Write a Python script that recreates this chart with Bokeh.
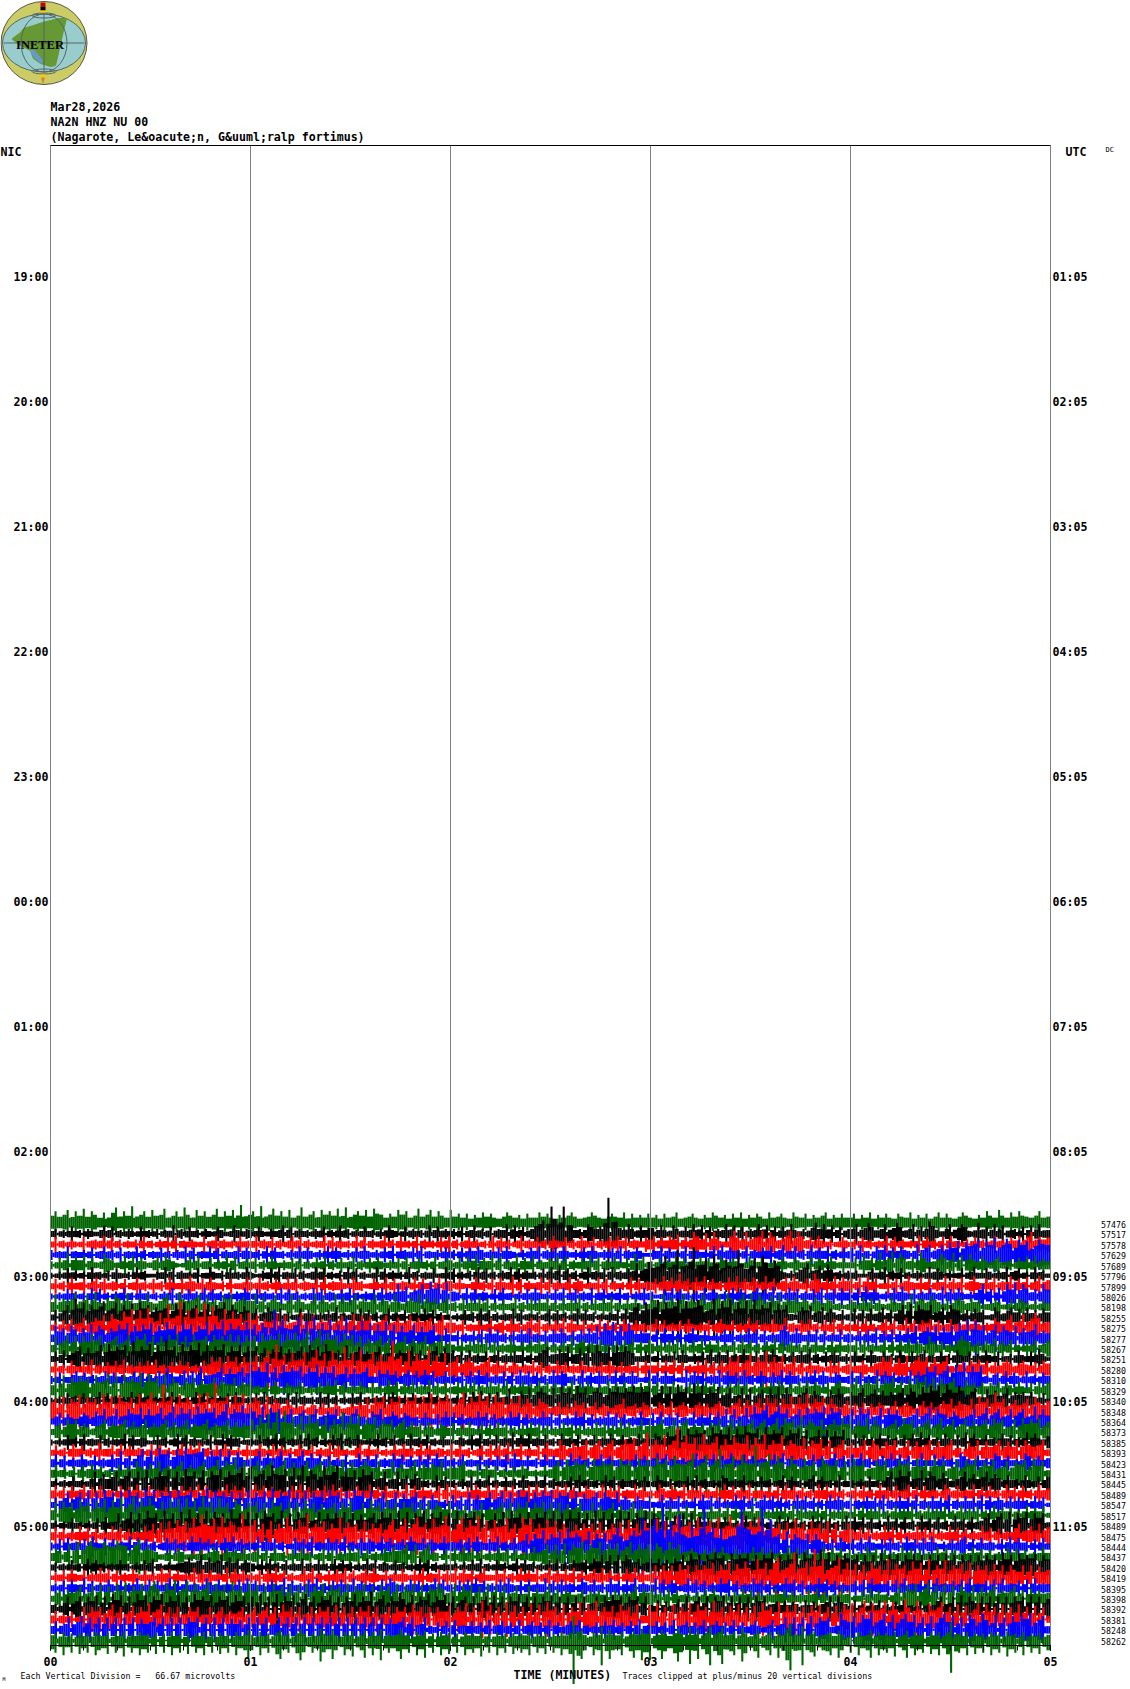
from bokeh.plotting import figure
from bokeh.models import Range1d, LinearAxis, FixedTicker, ColumnDataSource
from bokeh.core.properties import value
from bokeh.embed import file_html
from bokeh.resources import INLINE

TITLE_LINES = ["Mar28,2026", "NA2N HNZ NU 00", "(Nagarote, Le&oacute;n, G&uuml;ralp fortimus)"]
NIC_HOURS = ["19:00","20:00","21:00","22:00","23:00","00:00","01:00","02:00","03:00","04:00","05:00"]
UTC_HOURS = ["01:05","02:05","03:05","04:05","05:05","06:05","07:05","08:05","09:05","10:05","11:05"]
MINUTE_LABELS = ["00","01","02","03","04","05"]
TRACE_LABELS = [57476,57517,57578,57629,57689,57796,57899,58026,58198,58255,58275,58277,58267,58251,58280,58310,58329,58340,58348,58364,58373,58385,58393,58423,58431,58445,58489,58547,58517,58489,58475,58444,58437,58420,58419,58395,58398,58392,58381,58248,58262]
TRACE_COLORS = ["#006400", "#000000", "#ff0000", "#0000ff"]

# half-height of each trace, one base-36 character per 1.2 s, one group per minute (read by eye)
AMPLITUDES = [
"8a79b6a8c7a9695bd7a8e69a7b89c68a7d96b8a79c7a8b6f79 a7e69c8a7b68d79a6b9a8c7d69a8b7ca9687b9a68c79b7a86b 7868576978657986758669786576897567986578769586768 6758679567865769867586957687596786597685768957686 6857695768658769576857968657986576a86b8697a8768a67",
"3514263415324736142531634251437152634153264137425 4263153472615342536142735142634152743162534172635 3526147352615482736258ab2mf8m3745287565t2a63851746 6274175263847162538471625384716263841526958472615 5826973582697158263a84158268731946283714526172834",
"3614253161453726251435172415362714353261472534163 4172536152473615243716253417261534725163427153426 3725146352417263514725362517436152743615263746154 3657264758163a8592a6138b72a378b1a8269b3a81637425136 4251635243716253427163526173425163524735264728a3657",
"5243714352614735261437251436241537261437261534726 4351726341527364152736415263741526371453627143526 3516264751536274315264715362741526374153627153641 2547163527164352718364527153647258147251836471526 3618241758163754191782684a7b1a9bc2bae4adb1cab49cba",
"4163a27581632975147382641573864215738246153827146 3615274153627142637152634715263741536271463527146 5162738164827153826471536482715364827153741629372 4162537461527463175264137526315274165347165274163 3618562a47b1a8263a7146983a28196275167345164737264",
"3142635241734251632417352143726153426137425163427 4215362714361524736142517361423716253417251436217 3614251736241537162534162738162514725361725364a27b8 9cg3bk2aen7bd3hc2da8kc3ae1gd8ca315268a1683961525 3521463471536142531736415236147326415371562417352",
"3625173461572635426147352635174263851627435162347 4173526417362543617254631745236417263541726341725 5263147352617438261534726153472651437261534172635 4618571a36174826351748163751826157385162a71638275 6271846137261584273615482637158426371548263715826",
"3142635241736241537241635241537142635172635142537 4162534172635142736154263714253617253a58167a2c8a1b 3541726354162734152637415263714625371462537241537 3521647263415273641527364157463815274615362714627 4627183641527384162537418263741527a36172a7b1a8263a7",
"5a2768b17a3c5176a92b6176a5169a21c8679a2857198a1786 6a18279516a28516a2851a2857a1857a2761a5168 5a1857268 3517264837152634815273648152736481526374815263741 2971a3857a1857a368a2b918a7b1a8196a1768576186276142 3651847263185462a1884975162786275613465136276415264",
"3617a2f9c1a8bd29c1a8b2c9a1879a2b8c19a28b1a9c2a8197 2715861725137264152638142537162514725361452736152 3142635173615243716243514726351472635142536172ab2c 8ae1c9bf3d9aec28f1dae3c9d2e8a9c1b8a216879168275162 4726173582617a3b1a87a1682a871627562186278571846275",
"3516271582687a2b97dbf1e9ga3c1j9cl2e9gbk3hc1f8d9b2c 8a2768b1a368c27a176827a17b2a79168a16857a1867827a17 5261436247156274516837152638174261537162517426351 4716253617425361574261528361537428153647251637162 5361724157261382616572634715263741538648a17b29ca16",
"2a782a9186b1a9287b9c1a7b9c2a8d9a1c9b3a9d2b9e1c9a8d 9b2cb1n8fa9dg3e1h7c8f2b7g1a7e8c2b7d3b1a68b1968a128 4261536271847351627481536274851627384a1c8d1a2c8165 5271846271584263152746153847162538a7185264716253715 4162738162716384a1796a296a3c8f1e8a28b1a86a1868b265",
"2a18b1a2a7c8a179a28b1a9c2a1a7b9c1a2b89a1b9a8c7b2a 8a1b8a9c2b9d8ae1bf2d9a1c9b2a1868a29167a2867a167a26 4162738471625384162738471526391782647351627381627 5162738162738164725361847251638172635172635172635 3617253471627384651a7361528a871627481637142637158",
"3627168a1968b2c8a9b1e8a9c2b8f9a1c8b9d2b8a9c1a8b2a 8a19287a1868a2b9a1c8671b17a2657a16b2768a27168a1967 3617253614725364725169a1586a1591a2b86a1b7a86136 4261536174253618264715384261738415263748152637415 2635174263517426357142635174261537426135174263851",
"3625174263815264738152637481526374615273a8a1b8a2a7 8b1cf2k9c3d9ae1cg9d2fa3i9d1g8ae2c8dn9b1f3c9ag2b7d1 8a2897168a2746165354726153746253741526374162536174 4617382615374826173a8b19c2a8f1a7b26a16264531746258 3475167a8a196b29a8a1968a2156176857263786167546176",
"4261357463514726351473615274a6158272a1568a1968 a1c9a8e1a2c8a9b1a8c2a7b16a1968a21868571685728571 4735261738462537161847362518476351826374518263741 3816274513827461538274618352741638274516382741653 4726153817462538174a8b19b1c8e1b8b2156172641735 264",
"5a1c2a8b9a1c8ad3b1c9a8e2d9a1c2a8197a1867a2876a1768 3526174165374152637481625374163528471637254816372 4736281537462815374628471635281637425381647253618 2716473516284736152738461527364851627384752617843 6a1796a187a18296a8b1a1968a21856174657265174261738",
"3142635162437162534172635142637152417361425361742 4263715243617253417362514263714253617425163417251 4135261748261734a1586a19a86a2b8a1c8a19a82a9b8a9c8b 9b28c1b2d9a1e7c2a8b17a16a2a1791a6b1a7168a1865186a7 1758a179685768a2a91b8cac2db8ca19a2196857a1767574162",
"9a2c1a9d3b9a1e9c2da9b1e9cfa2l9c1d9ba2e8f1n8ac2d8e1 9ba1c2a8196356166173465146576a1b9c2a9c1bad2c8e1bad a1cf3b9eac1d9b2a8c2a81a97157162867157165367a156176 4176281675167561785168a1968a2b8a1a7c2b7e1a9b2a7168 3617264761582675168472687a1876a2c9a1f9a2796 8a1b96a",
"3571642576186a16a16a87b1a68b19c2b8a1c8a9b2ae1a9d8b a1c2b9a17a18967a1687a1768a25187a1586176451742618 4716253847162538471625384716253847162538471625384 3718264715382647183a1a26b1c8bd2ac8a17a1b8a9c2b9a1 7a1b8a16b1a796157a18b1a87186157a18b19a16a19a26c1a6",
"3671a8a175168a1768a1857a1758a2857a1768a1767a2857 6a1c9f2g1h9c3d1e9a2c1a7g2d8e1a8c1a8a19a1857185176 4726384172638471526384716253847162538471629384 6a1968a26a19a2657187a17a1968a19a1 8b1b9a2c1a96a18a7b 8a196b1a7168a1b8a169a18b17a18a1968a2b9a16a1b8a9b2a",
"3142635172436152437163542163514726153426137264513 4261537251436172514263715263142735162417352614253 3154263714261538264715362417352614261537416253726 4761 8 68a1b8a9a1c9a8c1b8da9b1c8a9c2a9b2a16a1a196a1 3716251746352617483625174263817426351746253817426",
"3625174615283461726354172635147263815263741526347 4172635174261538163425716351426374517263541726351 4617263814725361842a71867a18a29a18b 9c1ag2a8e1ck3e9c1f8ad1b8da9e1c9f2a9e1a97c1a9b2a1 8a1857a1a8197a16a1968a1968a15186a1968a196a1a868a1",
"4716253741625374a1628b1a2c9a1b8c9a bc1a7b1a196157a1857a1857a1857162537148263715384716 3627184635172436152637184263517263418263514726341 4172635817263514836172638417263541728163542716358 3617283514628372614831726351874263518726342871635",
"4735261738462517364a7385a1758a1758a18b1a9c2a1 8a19a1 8b1968a19a1a86a1968a86a15a1857a18687a1768a1 3827461526375142638a1b8a9a1c8a9 a2c9a1c8b1dab2ea9cg2bf1dk3ae1fb9m1cg3eb1da2c8a1ca 8b1a2c8a16a8b17b9a1c7b2c8a17a2b9c1a8b17a1a9b1c8a1",
"3514263425a1857a18a1a1b17a8b1a2c8a1b1a 9c1a9bd2e1ab3fa9c1d2f1ba3e9cf1a7b2c9a16a15a17186 3417263415261537142635174263715243617253417261534 5263174251436172534176253714263514726341572634172 3415263417a1b8a16b1a8196157a1857a18617451742617",
"4726173581627354172638417253615472638174253817462 5817263514738261547283615274381627354281736452718 2741638527481637254718263574816327541826371548263 4186275381647253618472638145362718473625184736251 4627351846273581627354186273548162735184627351846",
"3617a18a1b1a2c8a1b1c9a1d9c2a9b1c9ab2a9d1c9a8b1 a1c2a8b1d2a9c1a2b1a8b1c9a1b1c9a1b17a16a1968a17185 3518271a1857a18b1a2c8a1a8b9c1a9a1b1968a1a86a175175 4731826472536184716253847261584736251847362518475 2815374628153746281537462815374628173651736 4527361",
"5a1b8a2c9a1b8d1c8e2bf1c9ea2b1c8d1e8c1f8b1e8a2cb1a 9b1a2c9a1b1a2c7a1968a1a8b16a1c8a1c7a1b8a1a2b1a96a 2758165 a1768a1a1a8b1a8b1a1a1968a15a1857a1857a175 4628173548261537462817354826153746281735482615374 3718264715283647152836471528364715283647152836471",
"3514263415261734a17b1a2c8a1c7a1b1d7a2c1b8a1d7a1b2 a1c9a2c1a1b8a16b1a7a8b1a1968a1b8a1c1b1a9c2a8b1a2c 1a8b1a16a2b1c8a1b1a8b1c2a1c7b1a1c2b1a2c1b1a8c1a8 37182a1a17461537425 1847362518473625184736251847 4726351846273518462735184627358a19a1b1a8b1a8a1 ",
"4716253847162538471625384a1b1c8dac2f9hcae2g9cb1ia bd2a1c1a8fa1d9i1a9c2a8f1b9a2c1a8a2bd1ae2cf9a1e9bg a1cf1dag2c1d9ae2a1fbe1a8d9c2a8196a8a1b17a8b1d8a1c8 ae1c2bg9ab1f9ac2f1ag9dh2c9fa1c8a1b2e8a1c8a2c1a16a7 4716253847162538471625384716253847162538a1685a29",
"4261735261843716254817362514736251847362517483625 3817462513746281537462815274651837246185372641835 46271853648152736 a1a8d2a9c1e9ba2c1a8b1cfa2bda ngkmey9kaqc7gaiwcf9e7abkujhcfwbm9a2c1a97a1a751617 5162738416273518462738415263781 6273541628374516273",
"4761 a1c2bda9cbadcb1ce2975146275142 63586175 647 3571 6174 5162 7351 4726 1538 4716 2537 5868a1a18a1 4162738471625384716253847a1a2b1a9c2a9c1a8b1ac1a 8a1ba2c8a1 67 5162 7384 1625 3847 1625 3847 1625 3847 4716253847162538471625384716253847162538471625384",
"3514263417263514263415263714253456857a1857a1857165 4162735162437152634172635142736154263514273615243 3415263714263514726351426371526456176a1a1a1a857157 4726176a1b8a1a8c9a1b8a9b1a7a9c2a7a8b1c9a2e8c1a8b9 8a1a6a1b7a8a1a8b7a1a7a2b7a1a7a1a7a8a1c8a1b8a9b1a8",
"2536174261538471625374163528471635281746352817463 5261748361524738152637481625738416253741638254716 3827461583264715283647158264738162574836251748263 5a1a7a1b8a1a8a9c2a8c1b9da2f9c1fg2aek3ad1nbf2acg1c 8b1a2c9a1f2b9a1d9c1f2a9e1a9b2c1a8a1b7a1a86a1a1968",
"3526174381625374162538417263581627354186273541728 2635174281635274815263741826354172863517462538172 4162738461527384162735481627354186273518462738154 3817265148372615384726153847261538472615384726153 4627183546271835462718354627183546271835462718354",
"3671768a16a2b1a2c8d1a8c2dea1c9f3ae1c8ad2c8b1e8a2c 8b1a2c8a1b1a2c1a8c1b9a2c1a8c1a2b8a1c2a8c1b2a9ca1 8c1a8b1a2c1a1a16a15a1857a18176457165746174657a1868 4618273541627384152638471625384716253748162538471 3618274516a1a8c1ad2a1b1a1a86a1968a1768a17185756",
"4526a18a1a8b1a2c9b1a2c9b1a9c2a8b1a2c9a8b2a9a1b8a1 a1c2a1c1a8b1ac1a1a9b2a1a8c1a8e1ab1a8da1b1a9c2a9b2 a19a1a19a2b1a1a8c1a2a1a8b1a1a1a1a16a1a8b9a1a9a2a1 37162581a18a1a1a8b1a1a1a1a8a156174651746 157a1a 75 3715263715263714261538a16a1b1a86a1a1a1a1a8a1b1a1a",
"47153612a1a8a1ac1a18b1a8d1ac2a1a16a8a15a18a1768a1 8a19a1a1c8a1a16a1a8a2c1a1a1a8b1a16a1a8a1c8a1a1a8 8b1a8d1a2f1c2a1e1b2a1d3c1e9a2c1a8e1c9f2a8b1c9a2c1 1b8d2a1c1a8d2c9a1f7a1b8c2a1b1d9a2e1b8c1a1b8c2a1b2c ad2cf3d9bf1ea2gc1fa3d9ce1a2c1b1ad1c8a2c1a1c2a1b2a1",
"4716a18b1a1a1a1a1a1a1968a1a1a1a1a8a1a1a1a1968 1a1a1a16a1a1a1a1a1a1a1a1a1a1a1a1a1968a1a16a1 3617281547362815736281574628163574815263748 3617281547362815736281574628163574 15816a1a1a1b1a9a1 1da8b1cbe1ad2c1bd8c1a2b1cd8b1a2cb1da1c2a1b8cbd1ab1",
"9a1c7a1b8a1ca8b1a8d1a8c9a1b2a1c8a1b1a8c1a2b8a1c8a fa1c8a1ef9a1dgc1a8hc9fa1c9d1ae2c8g1a8bf9a1c9e1a2c 9b1a2c9a8d1a2c8a1b8a9c2a8b1a8c9bzafa1c9k1fa9c2beag cg1afb8dhc1jaf2ek1fj9bc1hd2be1ac1e8ko9ak1cd2abc8ea1 a1c8ae2c9a8d1ae2c9a1b9c1eq2a8c1b8a2c9a1d9a2c1a8b1a",
]
UP_SCALE = {40: 0.55}
DOWN_SCALE = {0: 0.65}
NEIGHBOUR_FLOOR = 0.62
PEAK_GAIN = 1.25

PX_PER_MIN, PX_PER_HOUR = 200.0, 125.0
X = lambda px: (px - 50) / PX_PER_MIN
Y = lambda py: 18 + (py - 145) / PX_PER_HOUR

p = figure(width=1130, height=1689, output_backend="svg", toolbar_location=None,
           x_range=Range1d(X(0), X(1130)), y_range=Range1d(Y(1689), Y(0)),
           x_axis_type=None, y_axis_type=None, min_border=0, outline_line_color=None,
           margin=0)
p.grid.visible = False

# logo
p.ellipse(X(43.5), Y(42.5), width=86/PX_PER_MIN, height=83/PX_PER_HOUR, fill_color="#cccc66", line_color="#555544", line_width=1)
p.ellipse(X(43.5), Y(42.5), width=83/PX_PER_MIN, height=58/PX_PER_HOUR, fill_color="#99cccc", line_color="#556666", line_width=1)
lx = [12,20,23,33,42,50,58,66,63,60,57,55,50,40,33,30,20,12]
ly = [38,32,28,25,22,20,18,18,30,43,57,65,66,63,58,50,45,39]
p.patch([X(v) for v in lx], [Y(v) for v in ly], fill_color="#669933", line_color="#669933")
lx = [30,34,38,42,41,36,32]
ly = [50,50,55,60,63,59,54]
p.patch([X(v) for v in lx], [Y(v) for v in ly], fill_color="#6699cc", line_color="#6699cc")
p.ellipse(X(43.5), Y(42.5), width=46/PX_PER_MIN, height=58/PX_PER_HOUR, fill_color=None, line_color="#556666", line_width=1)
p.ellipse(X(43.5), Y(15), width=24/PX_PER_MIN, height=5/PX_PER_HOUR, fill_color=None, line_color="#556666", line_width=1)
p.ellipse(X(43.5), Y(71), width=24/PX_PER_MIN, height=5/PX_PER_HOUR, fill_color=None, line_color="#556666", line_width=1)
p.segment([X(3), X(43.5)], [Y(42.5), Y(13)], [X(84), X(43.5)], [Y(42.5), Y(72)], line_color="#556666", line_width=1)
p.quad(left=[X(40), X(40), X(40)], right=[X(45), X(45), X(45)], top=[Y(2), Y(6), Y(10)], bottom=[Y(6), Y(10), Y(12)], fill_color=["#cc0000", "#000000", "#ffcc00"], line_color=None)
p.quad(left=[X(40)], right=[X(45)], top=[Y(74)], bottom=[Y(77)], fill_color="#ffcc00", line_color=None)
p.patch([X(40.5), X(44.5), X(42.5)], [Y(77), Y(77), Y(84)], fill_color="#cc8833", line_color=None)
p.text([X(39.5)], [Y(44.5)], text=["INETER"], text_font=value("Liberation Serif"), text_font_style="bold",
       text_font_size="12.5px", text_align="center", text_baseline="middle", text_color="#000000")

# traces
ROW_MINUTES = 5 / 60
FIRST_ROW_HOUR = 18 + 103.5 * ROW_MINUTES
for i, groups in enumerate(AMPLITUDES):
    centre = FIRST_ROW_HOUR + i * ROW_MINUTES
    up_s, dn_s = UP_SCALE.get(i, 1.0), DOWN_SCALE.get(i, 1.0)
    xs, tops, bottoms, widths = [], [], [], []
    a = [int(c, 36) for c in "".join(groups.split())]
    step = 5.0 / len(a)
    for k, v in enumerate(a):
        nxt = a[k + 1] if k + 1 < len(a) else v
        prv = a[k - 1] if k else v
        floor = NEIGHBOUR_FLOOR * (prv + nxt) / 2
        peak = v * PEAK_GAIN if v > prv and v > nxt and v >= 6 else v
        for sub, h in ((0, peak), (1, min(v, nxt))):
            h = max(h, floor)
            xs.append((k + 0.25 + sub * 0.5) * step)
            tops.append(centre - h * up_s / PX_PER_HOUR)
            bottoms.append(centre + h * dn_s / PX_PER_HOUR)
            widths.append(step * 0.52)
    src = ColumnDataSource(dict(x=xs, top=tops, bottom=bottoms, w=widths))
    p.vbar(x="x", width="w", top="top", bottom="bottom", source=src,
           fill_color=TRACE_COLORS[i % 4], line_color=None)

# minute rules
minutes = list(range(len(MINUTE_LABELS)))
p.segment(minutes, [18.0] * 6, minutes, [30.0 + 5 / PX_PER_HOUR] * 6, line_color="#808080", line_width=1)

MONO = value("DejaVu Sans Mono")
def txt(px, py, s, size, bold=True, align="left"):
    p.text([X(px)], [Y(py)], text=[s], text_font=MONO, text_font_size=size,
           text_font_style="bold" if bold else "normal", text_align=align, text_baseline="middle", text_color="#000000")

for j, s in enumerate(TITLE_LINES):
    txt(50, 106 + 15 * j, s, "11.6px")
txt(0, 151, "NIC", "11.6px")
txt(1065, 151, "UTC", "11.6px")
txt(1105, 149, "DC", "7px", bold=False)
for i, n in enumerate(TRACE_LABELS):
    txt(1100.5, 1224 + i * 125 / 12, str(n), "8.3px", bold=False)
txt(20, 1675, "Each Vertical Division =\u00a0\u00a0\u00a066.67 microvolts", "8.3px", bold=False)
txt(622, 1675, "Traces clipped at plus/minus 20 vertical divisions", "8.3px", bold=False)
txt(513, 1674, "TIME (MINUTES)", "11.6px")
txt(2, 1678, "M", "5px", bold=False)

LABEL_OFFSET = 6 / PX_PER_HOUR
left_ticks = [19 + h + LABEL_OFFSET for h in range(11)]
left = LinearAxis(fixed_location=0, ticker=FixedTicker(ticks=left_ticks),
                  major_label_overrides=dict(zip(left_ticks, NIC_HOURS)))
right = LinearAxis(fixed_location=5, ticker=FixedTicker(ticks=left_ticks),
                   major_label_overrides=dict(zip(left_ticks, UTC_HOURS)))
bottom = LinearAxis(fixed_location=30, bounds=(0, 5),
                    ticker=FixedTicker(ticks=minutes, minor_ticks=[k / 6 for k in range(31)]),
                    major_label_overrides=dict(zip(minutes, MINUTE_LABELS)))
top = LinearAxis(fixed_location=18, bounds=(0, 5), ticker=FixedTicker(ticks=[]))
for ax in (left, right):
    ax.axis_line_color = None
    ax.major_tick_line_color = None
    ax.minor_tick_line_color = None
    ax.major_tick_in = 0
    ax.major_tick_out = 0
    ax.minor_tick_in = 0
    ax.minor_tick_out = 0
    ax.major_label_standoff = 2
for ax in (left, right, bottom):
    ax.major_label_text_font = "DejaVu Sans Mono"
    ax.major_label_text_font_style = "bold"
    ax.major_label_text_font_size = "11.6px"
    ax.major_label_text_color = "#000000"
bottom.axis_line_color = "#000000"
bottom.major_tick_in = 0
bottom.major_tick_out = 5
bottom.minor_tick_in = 0
bottom.minor_tick_out = 5
bottom.major_tick_line_color = "#000000"
bottom.minor_tick_line_color = "#000000"
bottom.major_label_standoff = 6
top.axis_line_color = "#000000"
top.major_tick_line_color = None
top.minor_tick_line_color = None
p.add_layout(left, "left")
p.add_layout(right, "right")
p.add_layout(bottom, "below")
p.add_layout(top, "above")

open("out.html", "w").write(file_html(p, INLINE))
